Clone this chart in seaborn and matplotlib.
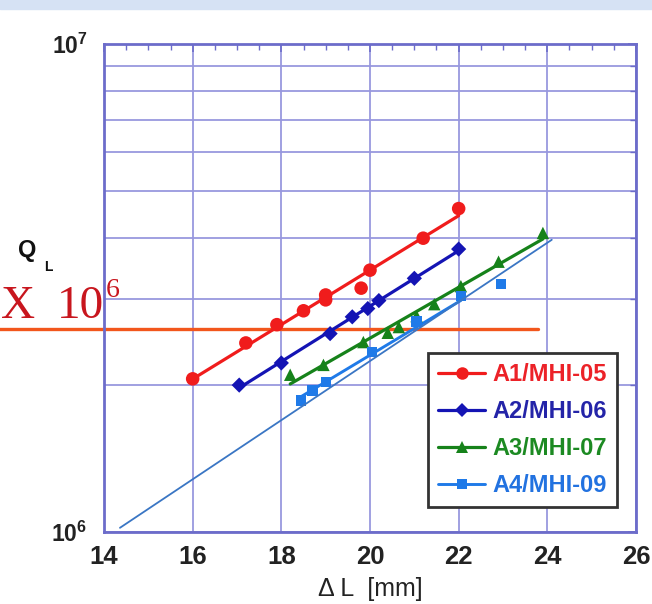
import numpy as np
import matplotlib
matplotlib.use("Agg")
import matplotlib.pyplot as plt
from matplotlib.lines import Line2D
from matplotlib.patches import Rectangle
from matplotlib.ticker import MultipleLocator, LogLocator, NullFormatter, FixedLocator, FixedFormatter
import seaborn as sns

# Loaded Q versus tuner stroke for four cavity / coupler pairs
a1_dl = [16.0, 17.2, 17.9, 18.5, 19.0, 19.0, 19.8, 20.0, 21.2, 22.0]
a1_ql = [2.06e6, 2.44e6, 2.66e6, 2.84e6, 3.06e6, 2.99e6, 3.16e6, 3.44e6, 4.00e6, 4.60e6]

a2_dl = [17.05, 18.0, 19.1, 19.6, 19.95, 20.2, 21.0, 22.0]
a2_ql = [2.00e6, 2.22e6, 2.55e6, 2.76e6, 2.87e6, 2.98e6, 3.31e6, 3.80e6]

a3_dl = [18.2, 18.95, 19.85, 20.4, 20.65, 21.05, 21.45, 22.05, 22.9, 23.9]
a3_ql = [2.10e6, 2.20e6, 2.45e6, 2.56e6, 2.63e6, 2.77e6, 2.93e6, 3.19e6, 3.58e6, 4.10e6]

a4_dl = [18.45, 18.7, 19.0, 20.05, 21.05, 22.05, 22.95]
a4_ql = [1.86e6, 1.95e6, 2.03e6, 2.34e6, 2.70e6, 3.05e6, 3.22e6]

labels = ["A1/MHI-05", "A2/MHI-06", "A3/MHI-07", "A4/MHI-09"]
fit_end = [22.0, 22.0, 23.9, 22.05]

# target level and guide line
target_dl = [11.6, 23.8]
target_ql = [2.6e6, 2.6e6]
guide_dl = [14.36, 24.1]
guide_ql = [1.02e6, 3.97e6]

x_ticks = [14, 16, 18, 20, 22, 24, 26]
y_ticks = [1e6, 1e7]
y_tick_labels = [r"$\mathbf{10^{6}}$", r"$\mathbf{10^{7}}$"]

sns.set_theme(style="white")
plt.rcParams["font.family"] = ["Liberation Sans", "DejaVu Sans"]
plt.rcParams["mathtext.fontset"] = "custom"
plt.rcParams["mathtext.rm"] = "Liberation Sans"
plt.rcParams["mathtext.bf"] = "Liberation Sans:bold"

line_cols = ["#f01c1c", "#1414b4", "#16821a", "#1f7ae8"]
text_cols = ["#ec2228", "#2424a8", "#1c8a22", "#2272e0"]
markers = ["o", "D", "^", "s"]
msizes = [95, 60, 80, 55]
lws = [2.3, 2.3, 2.3, 2.1]
spine_col = "#6c6cca"
grid_col = "#9898de"
serif = ["Liberation Serif", "DejaVu Serif"]

fig = plt.figure(figsize=(6.52, 6.04), dpi=100)
fig.patch.set_facecolor("white")
fig.patches.append(Rectangle((0, 1 - 9 / 604), 1, 9 / 604, transform=fig.transFigure,
                             color="#d6e2f4", zorder=0))
ax = fig.add_axes([104 / 652, 1 - 532 / 604, 532 / 652, 488 / 604])
ax.set_yscale("log")
ax.set_xlim(14, 26)
ax.set_ylim(1e6, 1e7)

ax.xaxis.set_major_locator(FixedLocator(x_ticks))
ax.xaxis.set_minor_locator(MultipleLocator(0.5))
ax.yaxis.set_major_locator(FixedLocator(y_ticks))
ax.yaxis.set_major_formatter(FixedFormatter(y_tick_labels))
ax.yaxis.set_minor_locator(LogLocator(base=10, subs=np.arange(2, 10)))
ax.yaxis.set_minor_formatter(NullFormatter())

ax.grid(True, which="major", axis="x", color=grid_col, lw=1.3)
ax.grid(True, which="both", axis="y", color=grid_col, lw=1.3)
ax.set_axisbelow(True)
for s in ax.spines.values():
    s.set_color(spine_col)
    s.set_linewidth(2.0)
ax.tick_params(which="both", direction="in", top=True, right=True, color=spine_col)
ax.tick_params(which="major", length=6, width=1.2)
ax.tick_params(which="minor", length=4, width=1.0)
ax.tick_params(axis="x", which="major", pad=9, labelsize=18.5, labelcolor="#222222")
ax.tick_params(axis="y", which="major", pad=12, labelsize=16.5, labelcolor="#222222")
for t in ax.get_xticklabels():
    t.set_fontweight("bold")

# target level
ax.plot(target_dl, target_ql, color="#f2561c", lw=2.4, clip_on=False, zorder=2)

series = [(a1_dl, a1_ql), (a2_dl, a2_ql), (a3_dl, a3_ql), (a4_dl, a4_ql)]
for i, (dl, ql) in enumerate(series):
    dl = np.asarray(dl)
    k, b = np.polyfit(dl, np.log10(ql), 1)
    xf = np.array([dl.min(), fit_end[i]])
    sns.lineplot(x=xf, y=10 ** (k * xf + b), ax=ax, color=line_cols[i], lw=lws[i],
                 legend=False, zorder=3)
    sns.scatterplot(x=dl, y=ql, ax=ax, color=line_cols[i], marker=markers[i],
                    s=msizes[i], edgecolor="none", linewidth=0, legend=False, zorder=4)

ax.plot(guide_dl, guide_ql, color="#3a76c4", lw=1.3, zorder=5)

ax.set_xlabel("\u0394 L  [mm]", fontsize=18, color="#222222", labelpad=6)
ax.set_ylabel("")

# axis quantity and scale factor
fig.text(18 / 652, 1 - 257 / 604, "Q", fontsize=17, fontweight="bold", color="#111111")
fig.text(44 / 652, 1 - 271 / 604, "L", fontsize=10, fontweight="bold", color="#111111")
fig.text(1 / 652, 1 - 318 / 604, "X", fontsize=34, color="#c8161e", family=serif)
fig.text(57 / 652, 1 - 318 / 604, "10", fontsize=34, color="#c8161e", family=serif)
fig.text(106 / 652, 1 - 297 / 604, "6", fontsize=20, color="#c8161e", family=serif)

handles = [Line2D([], [], color=line_cols[i], marker=markers[i], lw=lws[i],
                  ms=[9, 7, 9, 7][i], markeredgewidth=0) for i in range(4)]
leg = ax.legend(handles, labels, loc="upper left", bbox_to_anchor=(0.609, 0.367),
                frameon=True, fancybox=False, edgecolor="#333333", framealpha=1,
                prop={"family": "Liberation Sans", "weight": "bold", "size": 17},
                labelcolor=text_cols, handlelength=2.0, handletextpad=0.3,
                labelspacing=0.6, borderpad=0.42, borderaxespad=0)
leg.get_frame().set_linewidth(2.0)

fig.savefig("out.png", dpi=100)
